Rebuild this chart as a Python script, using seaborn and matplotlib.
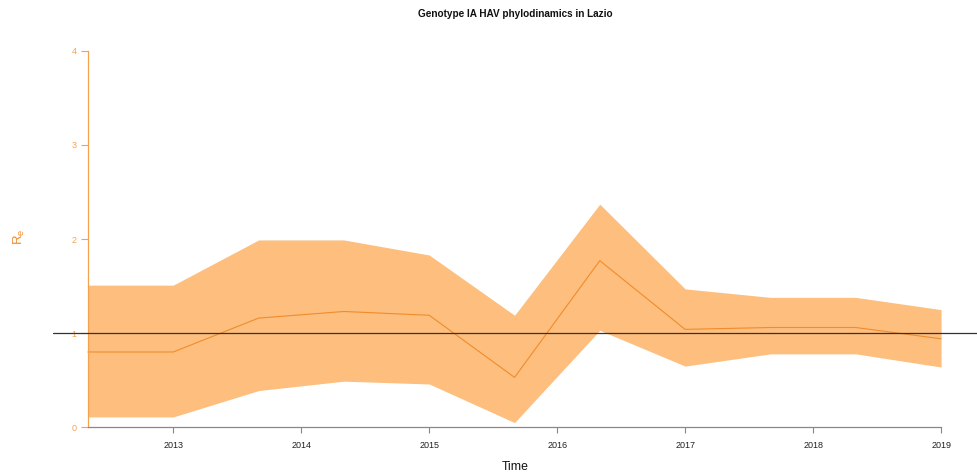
import matplotlib
matplotlib.use("Agg")
import matplotlib.pyplot as plt
import seaborn as sns
import pandas as pd
import numpy as np

# ---- data ----
times = [2012.333, 2013.0, 2013.667, 2014.333, 2015.0, 2015.667,
         2016.333, 2017.0, 2017.667, 2018.333, 2019.0]
re_median = [0.80, 0.80, 1.16, 1.23, 1.19, 0.53, 1.77, 1.04, 1.06, 1.06, 0.94]
re_upper = [1.51, 1.51, 1.99, 1.99, 1.83, 1.19, 2.37, 1.47, 1.38, 1.38, 1.25]
re_lower = [0.11, 0.11, 0.39, 0.49, 0.46, 0.05, 1.03, 0.65, 0.78, 0.78, 0.64]
year_ticks = [2013, 2014, 2015, 2016, 2017, 2018, 2019]
y_ticks = [0, 1, 2, 3, 4]
title = "Genotype IA HAV phylodinamics in Lazio"

df = pd.DataFrame({"Time": times, "Re": re_median, "lo": re_lower, "hi": re_upper})

sns.set_theme(style="white")
plt.rcParams["font.family"] = ["Liberation Sans", "DejaVu Sans"]

fill_col = "#FDBE7E"
line_col = "#F08C2C"
axis_col = "#F5A24E"

W, H = 977, 473
fig = plt.figure(figsize=(W / 100, H / 100), dpi=100)
# axes in pixel coordinates: x 53..977, y 30..440 (from top)
ax = fig.add_axes([53 / W, (H - 440) / H, (977 - 53) / W, (440 - 30) / H])

ax.fill_between(df["Time"], df["lo"], df["hi"], color=fill_col, linewidth=0, zorder=1)
sns.lineplot(data=df, x="Time", y="Re", ax=ax, color=line_col, linewidth=0.8, zorder=2)
ax.axhline(1, color="#333333", linewidth=0.9, zorder=3)

px_year = 128.2
x0 = times[0] - (88 - 53) / px_year
x1 = times[-1] + (977 - 941) / px_year
ax.set_xlim(x0, x1)
px_unit = 94.1
ax.set_ylim(-(440 - 427.3) / px_unit, 4 + (50.7 - 30) / px_unit)

for s in ["top", "right"]:
    ax.spines[s].set_visible(False)
ax.spines["left"].set_position(("data", times[0]))
ax.spines["left"].set_bounds(0, 4)
ax.spines["left"].set_color(axis_col)
ax.spines["left"].set_linewidth(0.9)
ax.spines["bottom"].set_position(("data", 0))
ax.spines["bottom"].set_bounds(times[0], times[-1])
ax.spines["bottom"].set_color("#888888")
ax.spines["bottom"].set_linewidth(0.9)

ax.set_xticks(year_ticks)
ax.set_xticklabels([str(y) for y in year_ticks])
ax.set_yticks(y_ticks)
ax.set_yticklabels([str(v) for v in y_ticks])
ax.tick_params(axis="x", direction="out", length=4, width=0.8, color="#888888",
               labelsize=6.5, labelcolor="#222222", pad=6, bottom=True)
ax.tick_params(axis="y", direction="out", length=5, width=0.8, color=axis_col,
               labelsize=6.5, labelcolor=axis_col, pad=3, left=True)

ax.set_xlabel("")
ax.set_ylabel("")
fig.text(515 / W, 1 - 467 / H, "Time", ha="center", va="center", fontsize=8.8, color="#111111")
fig.text(19 / W, 1 - 237 / H, r"R$_\mathregular{e}$", ha="center", va="center", rotation=90,
         fontsize=9.5, color=line_col)
fig.text(515 / W, 1 - 14 / H, title, ha="center", va="center", fontsize=7.2,
         fontweight="bold", color="#111111")

fig.savefig("out.png", dpi=100)
